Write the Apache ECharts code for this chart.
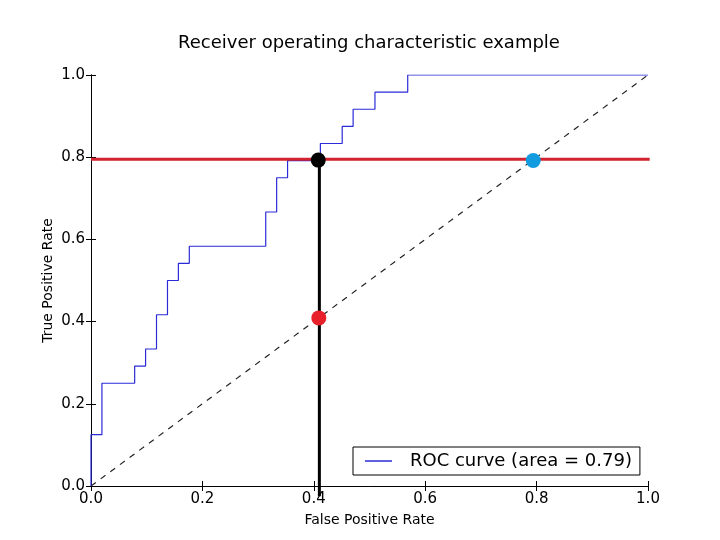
<!DOCTYPE html>
<html>
<head>
<meta charset="utf-8">
<script src="https://cdn.jsdelivr.net/npm/echarts@6/dist/echarts.min.js"></script>
<style>html,body{margin:0;padding:0;background:#fff;}#c{width:720px;height:540px;}</style>
</head>
<body>
<div id="c"></div>
<script>
// ROC curve step points (false positive rate, true positive rate)
const fpr = [0, 0, 0.0196, 0.0196, 0.0784, 0.0784, 0.098, 0.098, 0.1176, 0.1176, 0.1373, 0.1373, 0.1569, 0.1569, 0.1765, 0.1765, 0.3137, 0.3137, 0.3333, 0.3333, 0.3529, 0.3529, 0.4118, 0.4118, 0.451, 0.451, 0.4706, 0.4706, 0.5098, 0.5098, 0.5686, 0.5686, 1.0];
const tpr = [0, 0.125, 0.125, 0.25, 0.25, 0.2917, 0.2917, 0.3333, 0.3333, 0.4167, 0.4167, 0.5, 0.5, 0.5417, 0.5417, 0.5833, 0.5833, 0.6667, 0.6667, 0.75, 0.75, 0.7917, 0.7917, 0.8333, 0.8333, 0.875, 0.875, 0.9167, 0.9167, 0.9583, 0.9583, 1.0, 1.0];
const rocLabel = 'ROC curve (area = 0.79)';
const diagX = [0, 1];
const diagY = [0, 1];
// annotation lines
const hLineY = 0.795;
const hLineX = [0, 1.003];
const vLineX = 0.41;
const vLineY = [-0.025, 0.795];
// marked points
const pointX = [0.408, 0.409, 0.794];
const pointY = [0.793, 0.409, 0.792];
const pointColors = ['#000000', '#e8202a', '#139be0'];

const FONT = 'DejaVu Sans';
const chart = echarts.init(document.getElementById('c'), null, {renderer: 'canvas'});

const baseAxis = {
  type: 'value', min: 0, max: 1, interval: 0.2,
  axisLine: {show: true, lineStyle: {color: '#000', width: 1}},
  axisTick: {show: true, inside: true, length: 5, lineStyle: {color: '#000'}},
  splitLine: {show: false}
};

chart.setOption({
  animation: false,
  backgroundColor: '#fff',
  title: {
    text: 'Receiver operating characteristic example',
    left: 369, top: 34, padding: 0, textAlign: 'center',
    textStyle: {fontFamily: FONT, fontSize: 18, fontWeight: 'normal', color: '#000'}
  },
  grid: {left: 91, right: 72, top: 75, bottom: 54, containLabel: false},
  legend: {
    left: 353, top: 447,
    data: [{name: rocLabel, icon: 'path://M0,0L27,0L27,1.5L0,1.5Z'}],
    itemWidth: 27, itemHeight: 1.5, itemGap: 0,
    padding: [5, 8, 5, 12],
    borderColor: '#000', borderWidth: 1, borderRadius: 0,
    backgroundColor: '#fff',
    textStyle: {fontFamily: FONT, fontSize: 18, color: '#000', padding: [0, 0, 0, 13]}
  },
  xAxis: [
    Object.assign({}, baseAxis, {
      position: 'bottom',
      name: 'False Positive Rate', nameLocation: 'middle', nameGap: 27, nameMoveOverlap: false,
      nameTextStyle: {fontFamily: FONT, fontSize: 14, color: '#000'},
      axisLabel: {margin: 6, fontFamily: FONT, fontSize: 15, color: '#000', formatter: v => v.toFixed(1)}
    }),
    Object.assign({}, baseAxis, {position: 'top', axisLabel: {show: false}})
  ],
  yAxis: [
    Object.assign({}, baseAxis, {
      position: 'left',
      name: 'True Positive Rate', nameLocation: 'middle', nameGap: 36, nameMoveOverlap: false,
      nameTextStyle: {fontFamily: FONT, fontSize: 14, color: '#000'},
      axisLabel: {margin: 6, fontFamily: FONT, fontSize: 15, color: '#000', formatter: v => v.toFixed(1)}
    }),
    Object.assign({}, baseAxis, {position: 'right', axisLabel: {show: false}})
  ],
  series: [
    {
      name: rocLabel, type: 'line', symbol: 'none', z: 3,
      data: fpr.map((x, i) => [x, tpr[i]]),
      lineStyle: {color: '#2b2bd8', width: 1.2},
      itemStyle: {color: '#2b2bd8'}
    },
    {
      name: 'chance', type: 'line', symbol: 'none', z: 2,
      data: diagX.map((x, i) => [x, diagY[i]]),
      lineStyle: {color: '#222', width: 1.2, type: [6, 6]}
    },
    {
      name: 'hline', type: 'line', symbol: 'none', z: 4, clip: false,
      data: hLineX.map(x => [x, hLineY]),
      lineStyle: {color: '#d2222e', width: 3}
    },
    {
      name: 'vline', type: 'line', symbol: 'none', z: 5, clip: false,
      data: vLineY.map(y => [vLineX, y]),
      lineStyle: {color: '#000', width: 3}
    },
    {
      name: 'points', type: 'scatter', symbol: 'circle', symbolSize: 15, z: 6, clip: false,
      data: pointX.map((x, i) => ({value: [x, pointY[i]], itemStyle: {color: pointColors[i], opacity: 1}}))
    }
  ]
});
</script>
</body>
</html>
